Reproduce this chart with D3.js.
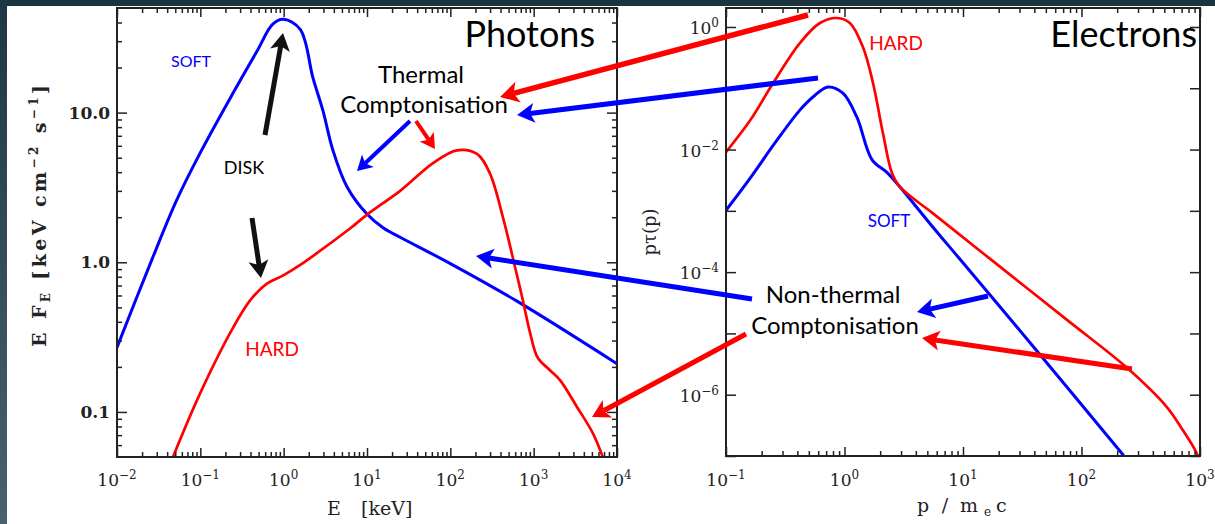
<!DOCTYPE html>
<html><head><meta charset="utf-8">
<script src="https://cdn.jsdelivr.net/npm/d3@7/dist/d3.min.js"></script>
<style>html,body{margin:0;padding:0;background:#fff;overflow:hidden}</style>
</head><body>
<svg id="chart" width="1215" height="524"></svg>
<script>
// ---------------- data ----------------
// Photon spectra: E [keV] vs E F_E [keV cm^-2 s^-1]
const photonSoftE = [0.01, 0.026, 0.052, 0.1, 0.245, 0.48, 0.74, 1.0, 1.58, 2.25, 2.96, 3.9, 5.75, 10, 15.6, 25, 100, 630, 10000];
const photonSoftF = [0.27, 1.03, 2.6, 5.4, 13.4, 25.8, 39, 42, 36, 17, 10.3, 5.6, 3.2, 2.1, 1.7, 1.47, 0.98, 0.55, 0.21];
const photonHardE = [0.047, 0.1, 0.25, 0.40, 0.63, 1.0, 1.58, 2.5, 6.25, 10.2, 25, 62, 120, 209, 300, 427, 600, 740, 903, 1120, 1570, 2070, 3310, 5140, 6750];
const photonHardF = [0.05, 0.134, 0.37, 0.56, 0.72, 0.82, 0.96, 1.15, 1.68, 2.1, 3.0, 4.6, 5.6, 5.3, 3.9, 2.0, 0.92, 0.56, 0.34, 0.23, 0.19, 0.163, 0.108, 0.072, 0.05];
// Electron distributions: p / m_e c vs p tau(p)
const electronSoftP = [0.1, 0.16, 0.259, 0.42, 0.564, 0.726, 0.97, 1.27, 1.71, 2.29, 2.94, 5.58, 9.44, 44.7, 224];
const electronSoftT = [1.02e-3, 3.43e-3, 1.28e-2, 4.4e-2, 7.7e-2, 0.105, 8.3e-2, 3.4e-2, 6.8e-3, 4.2e-3, 2.45e-3, 5.4e-4, 1.62e-4, 4.5e-6, 1.05e-7];
const electronHardP = [0.1, 0.16, 0.25, 0.42, 0.62, 0.865, 1.11, 1.43, 1.74, 2.11, 2.51, 2.94, 5.58, 17.9, 75.4, 242, 525, 720, 908, 962];
const electronHardT = [9.1e-3, 3.0e-2, 0.122, 0.546, 1.16, 1.40, 1.16, 0.47, 0.122, 1.86e-2, 4.2e-3, 2.45e-3, 9.1e-4, 1.51e-4, 1.66e-5, 2.75e-6, 6.3e-7, 2.6e-7, 1.26e-7, 1.0e-7];
// Tick values / labels
const photonXMajor = [1e-2, 1e-1, 1e0, 1e1, 1e2, 1e3, 1e4];
const photonXExp = ["−2", "−1", "0", "1", "2", "3", "4"];
const photonYMajor = [0.1, 1, 10];
const photonYLabels = ["0.1", "1.0", "10.0"];
const electronXMajor = [1e-1, 1e0, 1e1, 1e2, 1e3];
const electronXExp = ["−1", "0", "1", "2", "3"];
const electronYMajor = [1e-7, 1e-6, 1e-5, 1e-4, 1e-3, 1e-2, 1e-1, 1e0];
const electronYLabelled = [1e0, 1e-2, 1e-4, 1e-6];
const electronYExp = ["0", "−2", "−4", "−6"];

// ---------------- layout ----------------
const W = 1215, H = 524;
const L = {x0: 117, x1: 617, y0: 457, y1: 8};
const R = {x0: 726, x1: 1200, y0: 456, y1: 8};
const BLUE = "#0000ff", RED = "#ff0000", INK = "#222";
const SERIF = "'DejaVu Serif', 'Liberation Serif', serif";
const SANS = "Lato, 'Open Sans', 'Liberation Sans', sans-serif";

const svg = d3.select("#chart");
const defs = svg.append("defs");
const grad = defs.append("linearGradient").attr("id", "edge").attr("x1", 0).attr("y1", 0).attr("x2", 0).attr("y2", 1);
grad.append("stop").attr("offset", "0%").attr("stop-color", "#1b3844");
grad.append("stop").attr("offset", "100%").attr("stop-color", "#48636f");
svg.append("rect").attr("width", W).attr("height", H).attr("fill", "#fff");
svg.append("rect").attr("x", 0).attr("y", 0).attr("width", W).attr("height", 6).attr("fill", "#19343f");
svg.append("rect").attr("x", 0).attr("y", 0).attr("width", 7).attr("height", H).attr("fill", "url(#edge)");

const xP = d3.scaleLog().domain([1e-2, 1e4]).range([L.x0, L.x1]);
const yP = d3.scaleLog().domain([0.05, 50]).range([L.y0, L.y1]);
const xE = d3.scaleLog().domain([0.1, 1000]).range([R.x0, R.x1]);
const yE = d3.scaleLog().domain([1e-7, 2.04]).range([R.y0, R.y1]);

function minors(domain) {
  const out = [];
  const lo = Math.floor(Math.log10(domain[0])), hi = Math.ceil(Math.log10(domain[1]));
  for (let e = lo; e <= hi; e++) for (let m = 2; m <= 9; m++) {
    const v = m * Math.pow(10, e);
    if (v > domain[0] * 1.0001 && v < domain[1] * 0.9999) out.push(v);
  }
  return out;
}
function tickSet(g, axisFn, scale, values, size) {
  g.call(axisFn(scale).tickValues(values).tickSize(size).tickFormat(""));
  g.select(".domain").remove();
  g.selectAll(".tick line").attr("stroke", INK).attr("stroke-width", 1.5);
}
function frame(P, xs, ys, xMinor, yMinor, yMajorVals, xMajorVals) {
  const g = svg.append("g");
  const b = g.append("g").attr("transform", `translate(0,${P.y0})`);
  tickSet(b.append("g"), d3.axisBottom, xs, xMajorVals, -9);
  tickSet(b.append("g"), d3.axisBottom, xs, xMinor, -5);
  const t = g.append("g").attr("transform", `translate(0,${P.y1})`);
  tickSet(t.append("g"), d3.axisTop, xs, xMajorVals, -9);
  tickSet(t.append("g"), d3.axisTop, xs, xMinor, -5);
  const l = g.append("g").attr("transform", `translate(${P.x0},0)`);
  tickSet(l.append("g"), d3.axisLeft, ys, yMajorVals, -10);
  if (yMinor) tickSet(l.append("g"), d3.axisLeft, ys, yMinor, -5);
  const r = g.append("g").attr("transform", `translate(${P.x1},0)`);
  tickSet(r.append("g"), d3.axisRight, ys, yMajorVals, -10);
  if (yMinor) tickSet(r.append("g"), d3.axisRight, ys, yMinor, -5);
  g.append("rect").attr("x", P.x0).attr("y", P.y1).attr("width", P.x1 - P.x0).attr("height", P.y0 - P.y1)
    .attr("fill", "none").attr("stroke", INK).attr("stroke-width", 2);
  return g;
}

// clip paths
defs.append("clipPath").attr("id", "clipL").append("rect").attr("x", L.x0).attr("y", L.y1).attr("width", L.x1 - L.x0).attr("height", L.y0 - L.y1);
defs.append("clipPath").attr("id", "clipR").append("rect").attr("x", R.x0).attr("y", R.y1).attr("width", R.x1 - R.x0).attr("height", R.y0 - R.y1);

// curves
function curve(clip, xs, ys, X, Y, color, w) {
  const pts = X.map((x, i) => [xs(x), ys(Y[i])]);
  svg.append("path").attr("clip-path", `url(#${clip})`).attr("d", d3.line().curve(d3.curveCatmullRom.alpha(0.5))(pts))
    .attr("fill", "none").attr("stroke", color).attr("stroke-width", w).attr("stroke-linejoin", "round").attr("stroke-linecap", "round");
}
curve("clipL", xP, yP, photonSoftE, photonSoftF, BLUE, 3);
curve("clipL", xP, yP, photonHardE, photonHardF, RED, 2.7);
curve("clipR", xE, yE, electronSoftP, electronSoftT, BLUE, 3);
curve("clipR", xE, yE, electronHardP, electronHardT, RED, 2.7);

// axes frames
frame(L, xP, yP, minors(xP.domain()), minors(yP.domain()), photonYMajor, photonXMajor);
frame(R, xE, yE, minors(xE.domain()), null, electronYMajor, electronXMajor);

// tick labels
function powLabel(x, y, exp, anchor) {
  const t = svg.append("text").attr("x", x).attr("y", y).attr("text-anchor", anchor)
    .attr("font-family", SERIF).attr("font-size", 17).attr("fill", INK);
  t.append("tspan").text("10");
  t.append("tspan").attr("dy", -7).attr("font-size", 12).text(exp);
}
photonXMajor.forEach((v, i) => powLabel(xP(v), 486, photonXExp[i], "middle"));
electronXMajor.forEach((v, i) => powLabel(xE(v), 486, electronXExp[i], "middle"));
electronYLabelled.forEach((v, i) => powLabel(R.x0 - 7, yE(v) + 7, electronYExp[i], "end"));
photonYMajor.forEach((v, i) => {
  svg.append("text").attr("x", L.x0 - 7).attr("y", yP(v) + 6).attr("text-anchor", "end")
    .attr("font-family", SERIF).attr("font-size", 17).attr("font-weight", "bold").attr("fill", INK).text(photonYLabels[i]);
});

// axis titles
function txt(x, y, s, str, anchor) {
  return svg.append("text").attr("x", x).attr("y", y).attr("text-anchor", anchor || "start")
    .attr("font-family", SERIF).attr("font-size", s).attr("fill", INK).text(str);
}
txt(327, 515, 19, "E");
txt(361, 515, 19, "[keV]");
txt(917, 512, 19, "p");
txt(945, 512, 19, "/", "middle");
txt(960, 512, 19, "m");
txt(984, 516, 12, "e");
txt(996, 512, 19, "c");
const yt1 = svg.append("text").attr("transform", "translate(46,347) rotate(-90)").attr("text-anchor", "start")
  .attr("font-family", SERIF).attr("font-size", 19).attr("font-weight", "bold").attr("fill", INK)
  .attr("textLength", 262).attr("lengthAdjust", "spacing");
yt1.append("tspan").text("E F");
yt1.append("tspan").attr("dy", 4).attr("font-size", 12).text("E");
yt1.append("tspan").attr("dy", -4).text(" [keV cm");
yt1.append("tspan").attr("dy", -8).attr("font-size", 12).text("−2");
yt1.append("tspan").attr("dy", 8).text(" s");
yt1.append("tspan").attr("dy", -8).attr("font-size", 12).text("−1");
yt1.append("tspan").attr("dy", 8).text("]");
const yt2 = svg.append("text").attr("transform", "translate(656,232) rotate(-90)").attr("text-anchor", "middle")
  .attr("font-family", SERIF).attr("font-size", 18).attr("fill", INK).text("pτ(p)");

// annotations (layout only)
const notes = [
  {t: "Photons", x: 595, y: 47, s: 36, c: "#000", a: "end"},
  {t: "Electrons", x: 1197, y: 47, s: 36, c: "#000", a: "end"},
  {t: "SOFT", x: 191, y: 67, s: 16, c: BLUE, a: "middle"},
  {t: "HARD", x: 272, y: 356, s: 19, c: RED, a: "middle"},
  {t: "DISK", x: 244, y: 174, s: 18, c: "#000", a: "middle"},
  {t: "Thermal", x: 421, y: 83, s: 24, c: "#000", a: "middle"},
  {t: "Comptonisation", x: 424, y: 113, s: 24, c: "#000", a: "middle"},
  {t: "HARD", x: 896, y: 50, s: 19, c: RED, a: "middle"},
  {t: "SOFT", x: 889, y: 227, s: 17, c: BLUE, a: "middle"},
  {t: "Non-thermal", x: 833, y: 303, s: 24, c: "#000", a: "middle"},
  {t: "Comptonisation", x: 835, y: 334, s: 24, c: "#000", a: "middle"}
];
notes.forEach(n => svg.append("text").attr("x", n.x).attr("y", n.y).attr("text-anchor", n.a)
  .attr("font-family", SANS).attr("font-size", n.s).attr("fill", n.c).text(n.t));

const arrows = [
  {x1: 265, y1: 135, x2: 283, y2: 33, c: "#111", w: 5},
  {x1: 252, y1: 218, x2: 261, y2: 278, c: "#111", w: 5},
  {x1: 808, y1: 15, x2: 500, y2: 97, c: RED, w: 5.5},
  {x1: 818, y1: 78, x2: 517, y2: 115, c: BLUE, w: 5},
  {x1: 410, y1: 121, x2: 357, y2: 171, c: BLUE, w: 4},
  {x1: 416, y1: 121, x2: 435, y2: 149, c: RED, w: 4},
  {x1: 752, y1: 299, x2: 476, y2: 256, c: BLUE, w: 5},
  {x1: 746, y1: 334, x2: 592, y2: 417, c: RED, w: 5},
  {x1: 988, y1: 296, x2: 917, y2: 312, c: BLUE, w: 5},
  {x1: 1132, y1: 369, x2: 922, y2: 338, c: RED, w: 5}
];
arrows.forEach(a => {
  const dx = a.x2 - a.x1, dy = a.y2 - a.y1, len = Math.hypot(dx, dy);
  const ux = dx / len, uy = dy / len, px = -uy, py = ux;
  const hl = 5 + a.w * 2.5, hw = 3 + a.w * 1.4;
  const bx = a.x2 - ux * hl, by = a.y2 - uy * hl;
  const nx = a.x2 - ux * hl * 0.75, ny = a.y2 - uy * hl * 0.75;
  svg.append("line").attr("x1", a.x1).attr("y1", a.y1).attr("x2", nx).attr("y2", ny)
    .attr("stroke", a.c).attr("stroke-width", a.w);
  svg.append("path").attr("d", `M${a.x2},${a.y2}L${bx + px * hw},${by + py * hw}L${nx},${ny}L${bx - px * hw},${by - py * hw}Z`)
    .attr("fill", a.c);
});
</script>
</body></html>
